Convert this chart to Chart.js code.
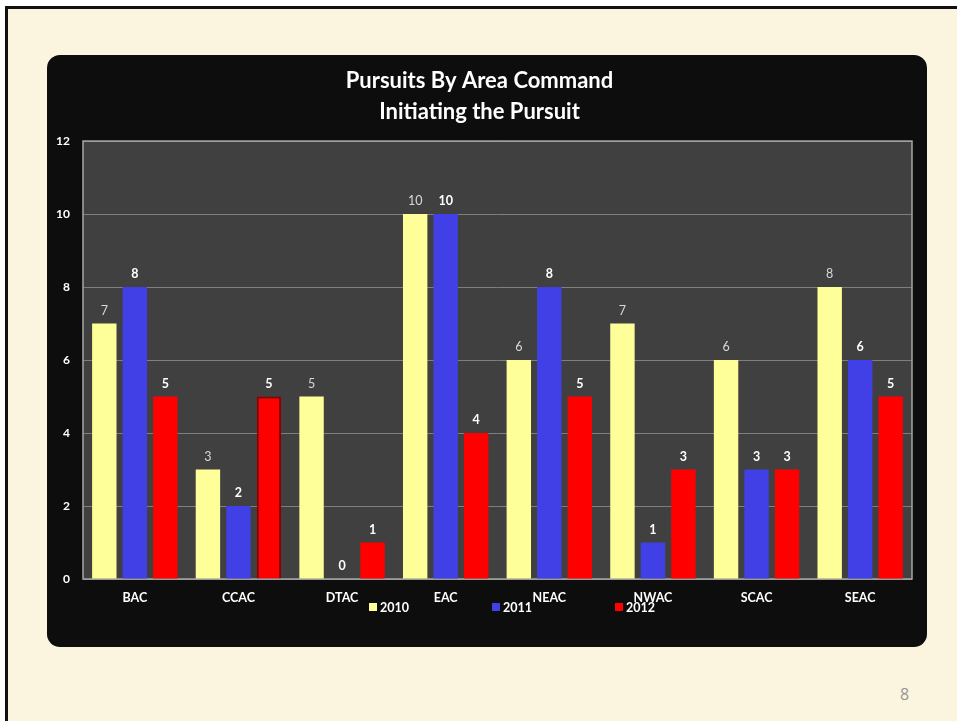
<!DOCTYPE html>
<html>
<head>
<meta charset="utf-8">
<script src="https://cdn.jsdelivr.net/npm/chart.js@4.4.1/dist/chart.umd.min.js"></script>
<style>
  html, body { margin:0; padding:0; background:#fff; width:957px; height:721px; overflow:hidden; }
  #slide { position:absolute; left:5px; top:6px; width:960px; height:730px; background:#fbf4de;
           border-left:3px solid #111; border-top:3px solid #111; }
  #box { position:absolute; left:47px; top:55px; width:880px; height:592px; background:#0d0d0d; border-radius:13px; }
  #pageNum { position:absolute; left:900px; top:683px; font:16px 'Open Sans', sans-serif; color:#969696; }
</style>
</head>
<body>
<div id="slide"></div>
<div id="box"><canvas id="chart" width="880" height="592"></canvas></div>
<div id="pageNum">8</div>
<script>
const categories = ['BAC','CCAC','DTAC','EAC','NEAC','NWAC','SCAC','SEAC'];
const seriesNames = ['2010','2011','2012'];
const values2010 = [7, 3, 5, 10, 6, 7, 6, 8];
const values2011 = [8, 2, 0, 10, 8, 1, 3, 6];
const values2012 = [5, 5, 1, 4, 5, 3, 3, 5];
const yTicks = [0, 2, 4, 6, 8, 10, 12];

const FONT = "Lato, 'Open Sans', sans-serif";
const colors = ['#ffff99', '#4040e6', '#ff0000'];

// plot background + frame
const plotFrame = {
  id: 'plotFrame',
  beforeDraw(chart) {
    const {ctx, chartArea:a} = chart;
    ctx.save(); ctx.fillStyle = '#404040';
    ctx.fillRect(a.left, a.top, a.right - a.left, a.bottom - a.top);
    ctx.restore();
  },
  beforeDatasetsDraw(chart) {
    const {ctx, chartArea:a} = chart;
    ctx.save(); ctx.strokeStyle = '#a6a6a6'; ctx.lineWidth = 1.5;
    ctx.strokeRect(a.left, a.top, a.right - a.left, a.bottom - a.top);
    ctx.restore();
  }
};

// value labels above bars
const valueLabels = {
  id: 'valueLabels',
  afterDatasetsDraw(chart) {
    const ctx = chart.ctx;
    ctx.save(); ctx.textAlign = 'center'; ctx.textBaseline = 'middle';
    chart.data.datasets.forEach((ds, di) => {
      const meta = chart.getDatasetMeta(di);
      ctx.font = (di === 0 ? 'normal ' : 'bold ') + '12.5px ' + FONT;
      ctx.fillStyle = di === 0 ? '#d9d9d9' : '#ffffff';
      meta.data.forEach((bar, i) => {
        ctx.fillText(String(ds.data[i]), bar.x, bar.y - 13);
      });
    });
    ctx.restore();
  }
};

// legend overlapping the category labels, like the original
const lowLegend = {
  id: 'lowLegend',
  afterDraw(chart) {
    const ctx = chart.ctx, a = chart.chartArea;
    ctx.save(); ctx.font = 'bold 12.5px ' + FONT; ctx.textBaseline = 'middle';
    chart.data.datasets.forEach((ds, i) => {
      const x = a.left + 286 + i * 123, y = 552;
      ctx.fillStyle = ds.backgroundColor;
      ctx.fillRect(x, y - 4, 8, 8);
      ctx.fillStyle = '#ffffff';
      ctx.fillText(ds.label, x + 11, y + 1);
    });
    ctx.restore();
  }
};

new Chart(document.getElementById('chart'), {
  type: 'bar',
  data: {
    labels: categories,
    datasets: [
      { label: seriesNames[0], data: values2010, backgroundColor: colors[0] },
      { label: seriesNames[1], data: values2011, backgroundColor: colors[1] },
      { label: seriesNames[2], data: values2012, backgroundColor: colors[2],
        borderColor: '#8b0000', borderWidth: [0, 2, 0, 0, 0, 0, 0, 0], borderSkipped: 'bottom' }
    ]
  },
  options: {
    responsive: false,
    animation: false,
    datasets: { bar: { categoryPercentage: 0.883, barPercentage: 0.8 } },
    layout: { padding: { top: 10, left: 0, right: 15, bottom: 43 } },
    plugins: {
      legend: { display: false },
      tooltip: { enabled: false },
      title: {
        display: true,
        text: ['Pursuits By Area Command', 'Initiating the Pursuit'],
        color: '#ffffff',
        font: { family: FONT, size: 22, weight: 'bold', lineHeight: 1.41 },
        padding: { top: 0, bottom: 14 }
      }
    },
    scales: {
      x: {
        grid: { display: false, drawTicks: false },
        border: { display: false },
        ticks: { color: '#ffffff', font: { family: FONT, size: 12.5, weight: 'bold' }, padding: 11 },
        afterFit(s) { s.height = 25; }
      },
      y: {
        min: 0, max: 12,
        afterBuildTicks(s) { s.ticks = yTicks.map(v => ({ value: v })); },
        grid: { color: '#7f7f7f', lineWidth: 1, drawTicks: false },
        border: { display: false },
        ticks: { color: '#ffffff', font: { family: FONT, size: 12, weight: 'bold' }, padding: 13 },
        afterFit(s) { s.width = 36; }
      }
    }
  },
  plugins: [plotFrame, valueLabels, lowLegend]
});
</script>
</body>
</html>
